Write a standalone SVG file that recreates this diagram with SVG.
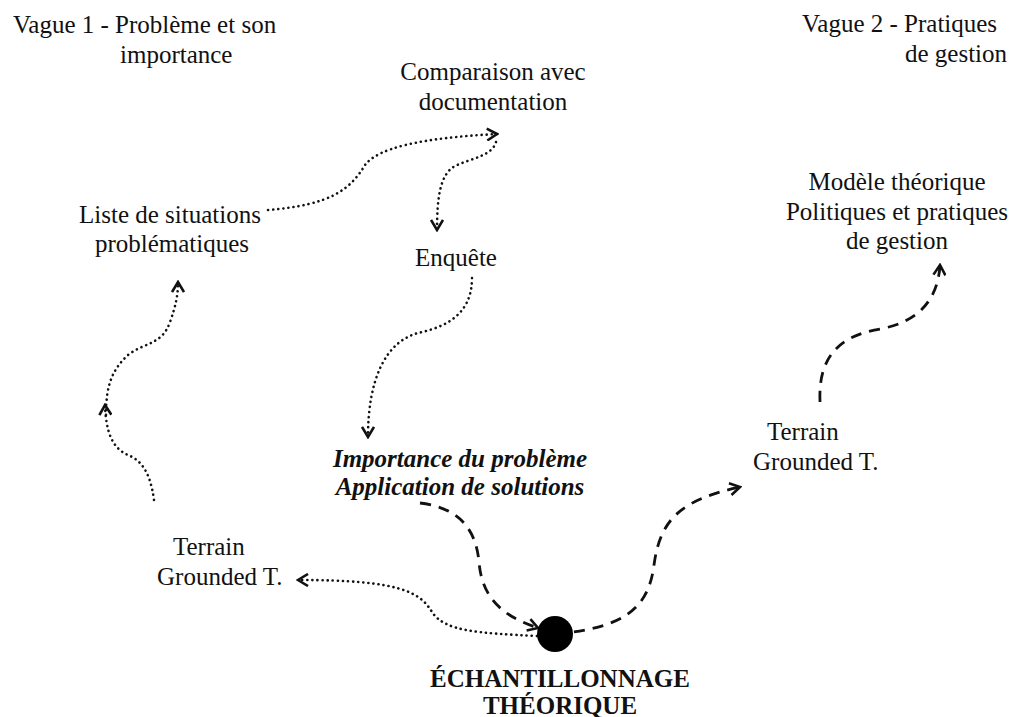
<svg xmlns="http://www.w3.org/2000/svg" width="1015" height="717" viewBox="0 0 1015 717">
<defs>
<style>
.t{font-family:"Liberation Serif","Times New Roman",serif;font-size:25px;fill:#111}
.bi{font-weight:bold;font-style:italic}
.b{font-weight:bold}
.dot{fill:none;stroke:#111;stroke-width:2.6;stroke-dasharray:0.1 5;stroke-linecap:round}
.dash{fill:none;stroke:#111;stroke-width:2.8;stroke-dasharray:11 8}
</style>
<marker id="ah" viewBox="0 0 14 14" refX="12" refY="7" markerWidth="14" markerHeight="14" markerUnits="userSpaceOnUse" orient="auto">
<path d="M2,1 L12,7 L2,13" fill="none" stroke="#111" stroke-width="2.6" stroke-linejoin="miter"/>
</marker>
</defs>
<rect width="1015" height="717" fill="#fff"/>
<g id="connectors">
<path class="dot" d="M268,210 C330,205 350,190 365,165 C378,148 420,138 497,134" marker-end="url(#ah)"/>
<path class="dot" d="M496,142 C492,156 472,158 455,166 C440,174 437,198 437,230" marker-end="url(#ah)"/>
<path class="dot" d="M472,278 C472,318 440,328 418,333 C385,342 368,380 368,437" marker-end="url(#ah)"/>
<path class="dot" d="M154,500 C150,470 140,460 128,455 C112,448 106,432 105,405" marker-end="url(#ah)"/>
<path class="dot" d="M106,415 C106,385 112,370 128,355 C145,342 162,345 170,322 C176,305 178,295 178,282" marker-end="url(#ah)"/>
<path class="dot" d="M537,636 C480,633 445,632 432,612 C420,592 400,580 298,580" marker-end="url(#ah)"/>
<path class="dash" d="M420,503 C460,508 476,530 479,562 C482,598 502,616 538,628" marker-end="url(#ah)"/>
<path class="dash" d="M555,634 C620,628 648,612 654,565 C660,520 680,500 740,487" marker-end="url(#ah)"/>
<path class="dash" d="M820,402 C818,358 838,336 880,329 C918,322 938,300 940,265" marker-end="url(#ah)"/>
</g>
<g id="vague1"><text class="t" x="13" y="33">Vague 1 - Problème et son</text><text class="t" x="120" y="63">importance</text></g>
<g id="vague2"><text class="t" x="802" y="32">Vague 2 - Pratiques</text><text class="t" x="905" y="62">de gestion</text></g>
<g id="comparaison"><text class="t" x="493" y="80" text-anchor="middle">Comparaison avec</text><text class="t" x="493" y="110" text-anchor="middle">documentation</text></g>
<g id="liste"><text class="t" x="170" y="223" text-anchor="middle">Liste de situations</text><text class="t" x="172" y="252" text-anchor="middle">problématiques</text></g>
<g id="enquete"><text class="t" x="456" y="266" text-anchor="middle">Enquête</text></g>
<g id="importance"><text class="t bi" x="460" y="467" text-anchor="middle">Importance du problème</text><text class="t bi" x="460" y="495" text-anchor="middle">Application de solutions</text></g>
<g id="terrain1"><text class="t" x="173" y="555">Terrain</text><text class="t" x="157" y="585">Grounded T.</text></g>
<g id="terrain2"><text class="t" x="767" y="440">Terrain</text><text class="t" x="753" y="470">Grounded T.</text></g>
<g id="modele"><text class="t" x="897" y="190" text-anchor="middle">Modèle théorique</text><text class="t" x="897" y="220" text-anchor="middle">Politiques et pratiques</text><text class="t" x="897" y="249" text-anchor="middle">de gestion</text></g>
<g id="echantillonnage"><circle cx="555" cy="634" r="18" fill="#000"/><text class="t b" x="560" y="687" text-anchor="middle">ÉCHANTILLONNAGE</text><text class="t b" x="560" y="714" text-anchor="middle">THÉORIQUE</text></g>
</svg>
